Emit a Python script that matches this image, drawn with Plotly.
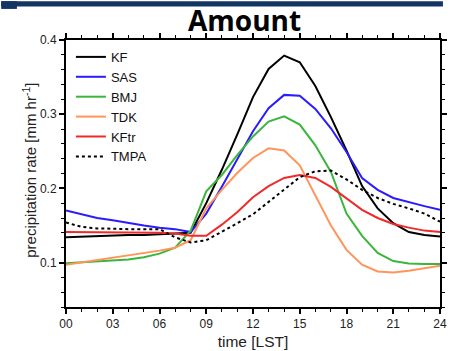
import plotly.graph_objects as go

hours = list(range(25))

kf = [0.134, 0.135, 0.135, 0.136, 0.137, 0.137, 0.138, 0.139, 0.140,
      0.180, 0.225, 0.273, 0.323, 0.361, 0.379, 0.370, 0.338, 0.296,
      0.251, 0.203, 0.173, 0.153, 0.141, 0.137, 0.135]
sas = [0.170, 0.165, 0.160, 0.157, 0.153, 0.150, 0.147, 0.145, 0.141,
       0.166, 0.202, 0.239, 0.277, 0.308, 0.326, 0.325, 0.307, 0.281,
       0.249, 0.214, 0.198, 0.187, 0.181, 0.176, 0.171]
bmj = [0.099, 0.100, 0.101, 0.102, 0.104, 0.107, 0.112, 0.120, 0.143,
       0.196, 0.218, 0.245, 0.270, 0.290, 0.297, 0.286, 0.258, 0.222,
       0.166, 0.136, 0.113, 0.102, 0.0985, 0.098, 0.098]
tdk = [0.097, 0.100, 0.104, 0.107, 0.110, 0.113, 0.116, 0.120, 0.130,
       0.173, 0.198, 0.221, 0.241, 0.254, 0.251, 0.231, 0.190, 0.150,
       0.117, 0.097, 0.088, 0.0865, 0.089, 0.092, 0.0957]
kftr = [0.141, 0.141, 0.141, 0.141, 0.141, 0.140, 0.140, 0.139, 0.136,
        0.136, 0.151, 0.168, 0.188, 0.203, 0.214, 0.218, 0.214, 0.202,
        0.186, 0.171, 0.160, 0.152, 0.147, 0.143, 0.141]
tmpa = [0.154, 0.148, 0.146, 0.145, 0.145, 0.145, 0.145, 0.134, 0.127,
        0.130, 0.141, 0.153, 0.165, 0.182, 0.199, 0.215, 0.223, 0.224,
        0.212, 0.198, 0.187, 0.179, 0.173, 0.166, 0.155]

series = [
    ("KF", kf, "#000000", "solid"),
    ("SAS", sas, "#2b1bff", "solid"),
    ("BMJ", bmj, "#3bb53b", "solid"),
    ("TDK", tdk, "#ff955a", "solid"),
    ("KFtr", kftr, "#f02a2a", "solid"),
    ("TMPA", tmpa, "#000000", "3px,3px"),
]

x_tickvals = list(range(0, 25, 3))
x_ticktext = ["%02d" % h for h in x_tickvals]
y_tickvals = [0.1, 0.2, 0.3, 0.4]
y_ticktext = ["0.1", "0.2", "0.3", "0.4"]

fig = go.Figure()
for name, vals, color, dash in series:
    fig.add_trace(go.Scatter(x=hours, y=vals, mode="lines", name=name,
                             line=dict(color=color, width=2, dash=dash)))

FONT = "Liberation Sans, Arial, sans-serif"
L, R, T, B = 66, 3, 40, 36
W, H = 450, 351
pw = W - L - R
ph = H - T - B

def px_x(px):
    return (px - L) / pw

def px_y(py):
    return (H - B - py) / ph

fig.update_layout(
    width=W, height=H,
    margin=dict(l=L, r=R, t=T, b=B),
    paper_bgcolor="white", plot_bgcolor="white",
    font=dict(family=FONT, color="#111111"),
    showlegend=True,
    legend=dict(x=px_x(71), y=px_y(42), xanchor="left", yanchor="top",
                bgcolor="rgba(0,0,0,0)", font=dict(size=13, family=FONT),
                tracegroupgap=0),
    xaxis=dict(range=[0, 24], tickvals=x_tickvals, ticktext=x_ticktext,
               ticks="outside", ticklen=5, tickwidth=1.5, tickcolor="black",
               showline=True, linecolor="black", linewidth=2, mirror="ticks",
               showgrid=False, zeroline=False,
               tickfont=dict(size=12, family=FONT, color="#222222"),
               minor=dict(dtick=1, ticks="outside", ticklen=3, tickwidth=1, tickcolor="black", showgrid=False),
               title=dict(text="time [LST]", font=dict(size=15.5, family=FONT, color="#222222"), standoff=6)),
    yaxis=dict(range=[0.04, 0.4], tickvals=y_tickvals, ticktext=y_ticktext,
               ticks="outside", ticklen=5, tickwidth=1.5, tickcolor="black",
               showline=True, linecolor="black", linewidth=2, mirror="ticks",
               showgrid=False, zeroline=False,
               tickfont=dict(size=12, family=FONT, color="#222222"),
               minor=dict(tickvals=[0.04 + 0.02 * i for i in range(19)], ticks="outside", ticklen=3, tickwidth=1, tickcolor="black", showgrid=False)),
    shapes=[
        dict(type="rect", xref="paper", yref="paper", x0=px_x(0), x1=px_x(450), y0=px_y(5.5), y1=px_y(0),
             fillcolor="#123563", line=dict(width=0), layer="above"),
        dict(type="rect", xref="paper", yref="paper", x0=px_x(0), x1=px_x(16), y0=px_y(8), y1=px_y(0),
             fillcolor="#123563", line=dict(width=0), layer="above"),
    ],
    annotations=[
        dict(text="<b>Amount</b>", xref="paper", yref="paper", x=px_x(248), y=px_y(19),
             xanchor="center", yanchor="middle", showarrow=False,
             font=dict(size=28, family="Open Sans, sans-serif", color="#000000")),
        dict(text="precipitation rate [mm hr<sup>-1</sup>]", xref="paper", yref="paper",
             x=px_x(28), y=px_y(174), xanchor="center", yanchor="middle", textangle=-90,
             showarrow=False, font=dict(size=15, family=FONT, color="#222222")),
    ],
)

fig.write_html("out.html")
